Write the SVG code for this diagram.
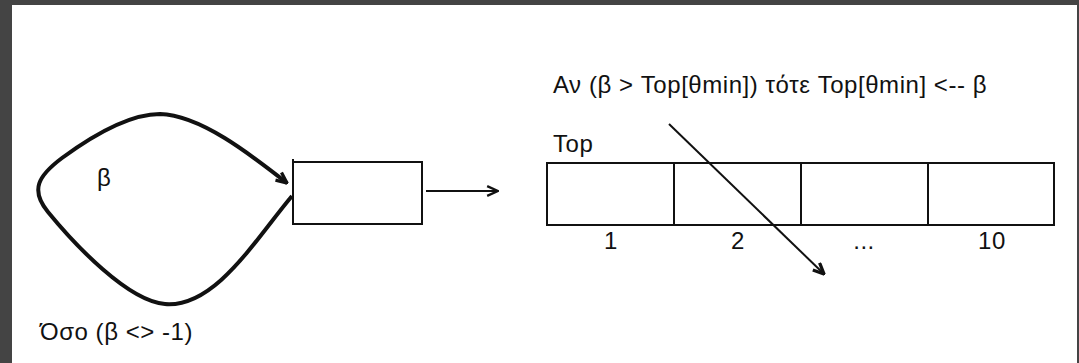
<svg xmlns="http://www.w3.org/2000/svg" width="1079" height="363" viewBox="0 0 1079 363">
<style>
.t{font-family:"Liberation Sans",Arial,sans-serif;font-size:24px;letter-spacing:0.55px;fill:#111;}
.box{fill:#fff;stroke:#111;stroke-width:2;}
.ln{fill:none;stroke:#111;}
</style>
<defs>
<marker id="ah" viewBox="0 0 12 12" refX="11" refY="6" markerUnits="userSpaceOnUse" markerWidth="13" markerHeight="13" orient="auto">
<path d="M1,1.5 L11,6 L1,10.5" fill="none" stroke="#111" stroke-width="2.2"/>
</marker>
<marker id="ahb" viewBox="0 0 12 12" refX="11" refY="6" markerUnits="userSpaceOnUse" markerWidth="13" markerHeight="13" orient="auto">
<path d="M1,1.5 L11,6 L1,10.5" fill="none" stroke="#111" stroke-width="3"/>
</marker>
</defs>
<rect x="0" y="0" width="1079" height="363" fill="#444"/>
<rect x="12" y="5" width="1065" height="358" fill="#fff"/>
<g id="loop-node">
<text class="t" x="97" y="186">β</text>
</g>
<g id="box-node">
<rect class="box" x="293" y="162" width="129" height="62"/>
<line class="ln" stroke-width="2" x1="293" y1="159" x2="293" y2="162"/>
</g>
<g id="top-table">
<text class="t" x="553" y="152">Top</text>
<rect class="box" x="547" y="163" width="507" height="62"/>
<line class="ln" stroke-width="2" x1="674" y1="163" x2="674" y2="225"/>
<line class="ln" stroke-width="2" x1="801" y1="163" x2="801" y2="225"/>
<line class="ln" stroke-width="2" x1="928" y1="163" x2="928" y2="225"/>
<text class="t" x="611" y="249" text-anchor="middle">1</text>
<text class="t" x="738" y="249" text-anchor="middle">2</text>
<text class="t" x="864" y="249" text-anchor="middle">...</text>
<text class="t" x="992" y="249" text-anchor="middle">10</text>
</g>
<g id="labels">
<text class="t" x="553" y="93">Αν (β &gt; Top[θmin]) τότε Top[θmin] &lt;-- β</text>
<text class="t" x="40" y="340">Όσο (β &lt;&gt; -1)</text>
</g>
<g id="connectors">
<path class="ln" stroke-width="4" d="M292,196 C255,240 215,308 165,304 C128,301 75,245 48,212 C30,190 38,176 62,158 C92,136 128,114 160,114 C200,115 250,154 287,183" marker-end="url(#ahb)"/>
<line class="ln" stroke-width="2" x1="426" y1="191" x2="498" y2="191" marker-end="url(#ah)"/>
<line class="ln" stroke-width="2" x1="669" y1="124" x2="824" y2="274" marker-end="url(#ahb)"/>
</g>
</svg>
